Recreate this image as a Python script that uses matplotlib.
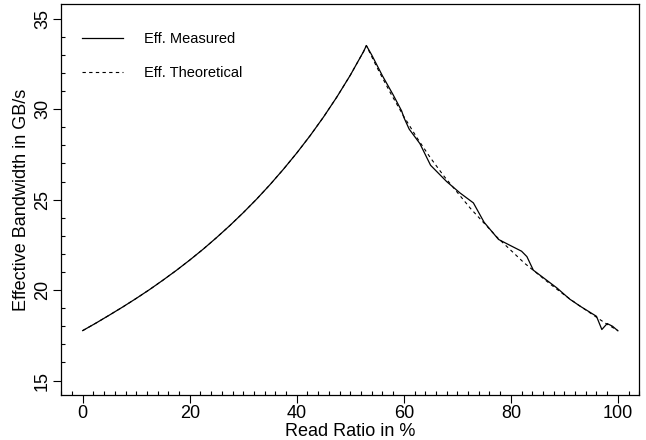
import matplotlib
matplotlib.use("Agg")
import matplotlib.pyplot as plt
from matplotlib.ticker import MultipleLocator

# ============================================================================
# DADOS
# ============================================================================

# trecho comum as duas curvas (0 % ate o pico em 53 %)
read_ratio_subida = [0, 2.5, 5, 7.5, 10, 12.5, 15, 17.5, 20, 22.5, 25, 27.5,
                     30, 32.5, 35, 37.5, 40, 42.5, 45, 47.5, 50, 52.5, 53]
bw_subida = [17.76, 18.18, 18.62, 19.07, 19.54, 20.03, 20.55, 21.09, 21.66, 22.26,
             22.9, 23.57, 24.28, 25.03, 25.83, 26.68, 27.58, 28.54, 29.57, 30.68,
             31.88, 33.2, 33.52]

# curva medida depois do pico
read_ratio_medido = [54, 56, 58, 59.6, 60, 61, 63, 65, 66, 68, 70.5, 73,
                     75, 77.7, 80, 82, 83, 84.2, 86, 88.6, 91, 93, 96,
                     97, 98, 99, 100]
bw_medido = [33.0, 31.85, 30.8, 29.9, 29.55, 28.9, 28.1, 26.9, 26.6, 26.0, 25.37, 24.82,
             23.75, 22.8, 22.45, 22.15, 21.85, 21.1, 20.7, 20.12, 19.5, 19.1, 18.55,
             17.82, 18.15, 18.0, 17.75]

# curva teorica depois do pico
read_ratio_teorico = [55, 57.5, 60, 62.5, 65, 67.5, 70, 72.5, 75, 77.5, 80,
                      82.5, 85, 87.5, 90, 92.5, 95, 97.5, 100]
bw_teorico = [32.3, 30.9, 29.6, 28.4, 27.3, 26.3, 25.4, 24.5, 23.7, 22.9, 22.2,
              21.5, 20.9, 20.3, 19.73, 19.2, 18.7, 18.2, 17.76]

# ============================================================================
# GRAFICO
# ============================================================================

plt.rcParams['font.family'] = ['Liberation Sans', 'DejaVu Sans']

fig = plt.figure(figsize=(6.46, 4.40), dpi=100)
ax = fig.add_axes([61.3 / 646, 1 - 395 / 440, 578 / 646, 390.7 / 440])

ax.plot(read_ratio_subida + read_ratio_medido, bw_subida + bw_medido,
        color='black', lw=0.9, label='Eff. Measured')
ax.plot(read_ratio_subida + read_ratio_teorico, bw_subida + bw_teorico,
        color='black', lw=0.8, dashes=(3, 3), label='Eff. Theoretical')

# limites no estilo R (4 % de folga)
ax.set_xlim(-4, 104)
ax.set_ylim(14.2, 35.8)

ax.xaxis.set_minor_locator(MultipleLocator(2))
ax.yaxis.set_minor_locator(MultipleLocator(1))
ax.set_xticks([0, 20, 40, 60, 80, 100])
ax.set_yticks([15, 20, 25, 30, 35])

ax.tick_params(which='major', direction='out', length=5.5, width=0.8,
               labelsize=13, pad=2)
ax.tick_params(which='minor', direction='in', length=3, width=0.8)
for lbl in ax.get_yticklabels():
    lbl.set_rotation(90)
    lbl.set_va('center')

for s in ax.spines.values():
    s.set_linewidth(0.9)

ax.set_xlabel('Read Ratio in %', fontsize=13, labelpad=0.5)
ax.set_ylabel('Effective Bandwidth in GB/s', fontsize=13, labelpad=3)

ax.legend(loc='upper left', bbox_to_anchor=(0.0353, 0.929), frameon=False,
          fontsize=10.5, handlelength=2.85, handletextpad=1.45,
          labelspacing=1.4, borderpad=0, borderaxespad=0)

fig.savefig('out.png', dpi=100)
